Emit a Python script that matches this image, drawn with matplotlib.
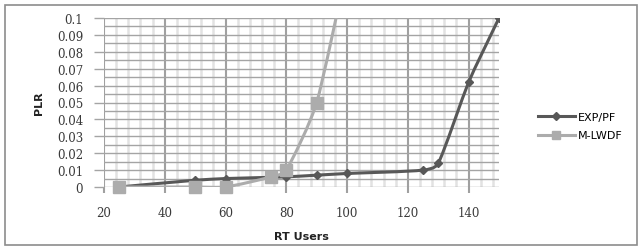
import numpy as np
import matplotlib
matplotlib.use('Agg')
import matplotlib.pyplot as plt
from matplotlib.path import Path
from matplotlib.patches import PathPatch, Rectangle
from matplotlib.ticker import MultipleLocator

# data
users_exp = [25, 50, 60, 80, 90, 100, 125, 130, 140, 150]
plr_exp = [0.0, 0.004, 0.005, 0.006, 0.007, 0.008, 0.010, 0.014, 0.062, 0.100]
users_mlwdf = [25, 50, 60, 75, 80, 90, 100]
plr_mlwdf = [0.0, 0.0, 0.0, 0.006, 0.010, 0.050, 0.130]
series_names = ['EXP/PF', 'M-LWDF']

dark = '#585858'
light = '#acacac'


def smooth_path(x, y):
    # smoothed line drawn as cubic Bezier segments, tangents weighted by spacing
    pts = np.column_stack([x, y]).astype(float)
    n = len(pts)
    tang = np.zeros_like(pts)
    for i in range(n):
        if i == 0:
            tang[i] = pts[1] - pts[0]
        elif i == n - 1:
            tang[i] = pts[-1] - pts[-2]
        else:
            tang[i] = (pts[i + 1] - pts[i - 1]) / 2.0
    verts = [pts[0]]
    codes = [Path.MOVETO]
    for i in range(n - 1):
        p1, p2 = pts[i], pts[i + 1]
        dx = p2[0] - p1[0]
        # scale tangents to the local segment width
        t1 = tang[i] * (dx / tang[i][0]) if tang[i][0] else tang[i]
        t2 = tang[i + 1] * (dx / tang[i + 1][0]) if tang[i + 1][0] else tang[i + 1]
        c1 = p1 + t1 / 3.0 * 0.6
        c2 = p2 - t2 / 3.0 * 0.6
        verts += [c1, c2, p2]
        codes += [Path.CURVE4] * 3
    return Path(verts, codes)


fig = plt.figure(figsize=(6.41, 2.51), dpi=100)
fig.patch.set_facecolor('white')
fig.patches.append(Rectangle((5 / 641, 5 / 251), 632 / 641, 240 / 251,
                             transform=fig.transFigure, fill=False,
                             edgecolor='#8c8c8c', linewidth=1.2))

ax = fig.add_axes([104 / 641, 63 / 251, 395 / 641, 169 / 251])
ax.set_xlim(20, 150)
ax.set_ylim(0, 0.1)

ax.xaxis.set_major_locator(MultipleLocator(20))
ax.xaxis.set_minor_locator(MultipleLocator(4))
ax.yaxis.set_minor_locator(MultipleLocator(0.005))
ax.set_yticks(np.arange(0, 0.1001, 0.01))
ax.set_yticklabels(['0'] + ['%g' % v for v in np.arange(0.01, 0.1001, 0.01)])

ax.grid(True, which='minor', axis='x', color='#e2e2e2', linewidth=1.8)
ax.grid(True, which='major', axis='x', color='#a0a0a0', linewidth=1.5)
ax.grid(True, which='both', axis='y', color='#a4a4a4', linewidth=1.0)
ax.set_axisbelow(True)

for s in ax.spines.values():
    s.set_visible(False)

ax.tick_params(which='both', length=0)
ax.tick_params(axis='y', which='major', length=7, color='#a4a4a4', width=1.0, pad=8)
ax.tick_params(axis='x', which='major', length=4, color='#a0a0a0', width=1.5, pad=10)
for lab in ax.get_xticklabels() + ax.get_yticklabels():
    lab.set_fontfamily('DejaVu Serif')
    lab.set_fontsize(8.5)
    lab.set_color('#3a3a3a')

ax.set_xlabel('RT Users', fontsize=8, fontweight='bold', labelpad=8, color='#222222')
ax.set_ylabel('PLR', fontsize=8, fontweight='bold', labelpad=9, color='#222222')

# smoothed lines, M-LWDF drawn above EXP/PF
ax.add_patch(PathPatch(smooth_path(users_exp, plr_exp), facecolor='none',
                       edgecolor=dark, linewidth=2.2, transform=ax.transData, zorder=2))
ax.plot(users_exp, plr_exp, linestyle='none', marker='D', markersize=4,
        color=dark, zorder=3)
ax.add_patch(PathPatch(smooth_path(users_mlwdf, plr_mlwdf), facecolor='none',
                       edgecolor=light, linewidth=2.2, transform=ax.transData, zorder=4))
ax.plot(users_mlwdf, plr_mlwdf, linestyle='none', marker='s', markersize=8,
        color=light, zorder=5, clip_on=False)

# legend
h1, = ax.plot([], [], color=dark, linewidth=2.2, marker='D', markersize=4)
h2, = ax.plot([], [], color=light, linewidth=2.2, marker='s', markersize=6)
fig.legend([h1, h2], series_names, loc='center left',
           bbox_to_anchor=(528 / 641, 1 - 127 / 251), frameon=False,
           prop={'family': 'DejaVu Sans', 'size': 8}, handlelength=3.3,
           handletextpad=0.25, labelspacing=0.8)

plt.savefig('out.png', dpi=100)
